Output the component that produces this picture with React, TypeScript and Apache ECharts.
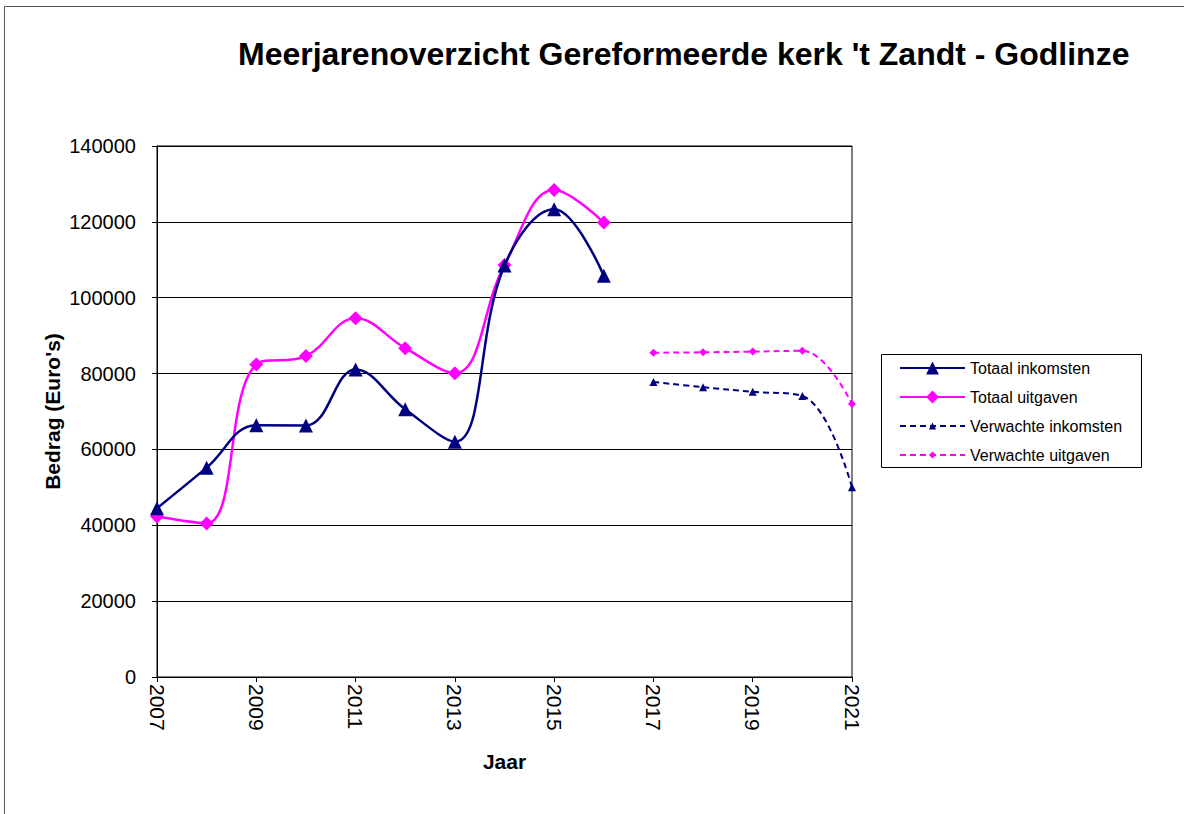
import React, { useEffect, useRef } from "react";
import * as echarts from "echarts";

const years = ["2007","2008","2009","2010","2011","2012","2013","2014","2015","2016","2017","2018","2019","2020","2021"];
const totaalInkomsten = [44500, 55200, 66400, 66300, 81100, 70600, 62000, 108500, 123300, 105800, null, null, null, null, null];
const totaalUitgaven = [42300, 40500, 82400, 84600, 94600, 86700, 80100, 108600, 128400, 119800, null, null, null, null, null];
const verwachteInkomsten = [null, null, null, null, null, null, null, null, null, null, 77800, 76400, 75200, 74100, 50000];
const verwachteUitgaven = [null, null, null, null, null, null, null, null, null, null, 85500, 85600, 85800, 86000, 72000];
const seriesNames = ["Totaal inkomsten", "Totaal uitgaven", "Verwachte inkomsten", "Verwachte uitgaven"];

const NAVY = "#000080";
const MAGENTA = "#FF00FF";
const FONT = "'Liberation Sans', Arial, sans-serif";

export default function App() {
  const ref = useRef<HTMLDivElement>(null);
  useEffect(() => {
    if (!ref.current) return;
    const chart = echarts.init(ref.current, undefined, { renderer: "svg" });
    const toData = (arr: (number | null)[]) => arr.map((v) => (v === null ? "-" : v));
    const legendTops = [360, 389, 418, 447];
    const legendHeights = [16, 16, 9, 9];
    const legends = seriesNames.map((n, i) => ({
      orient: "vertical",
      left: 899,
      top: legendTops[i],
      padding: 0,
      itemWidth: 65,
      itemHeight: legendHeights[i],
      itemGap: 8,
      selectedMode: false,
      textStyle: { fontFamily: FONT, fontSize: 16, lineHeight: 16, color: "#000" },
      data: [n],
    }));
    chart.setOption({
      animation: false,
      backgroundColor: "#fff",
      textStyle: { fontFamily: FONT },
      title: {
        text: "Meerjarenoverzicht Gereformeerde kerk 't Zandt - Godlinze",
        left: 238,
        top: 38,
        padding: 0,
        textStyle: { fontFamily: FONT, fontSize: 32, fontWeight: "bold", color: "#000" },
      },
      graphic: [
        {
          type: "rect",
          shape: { x: 4.5, y: 6.5, width: 1300, height: 900 },
          style: { fill: "none", stroke: "#555", lineWidth: 1 },
          silent: true,
        },
        {
          type: "rect",
          shape: { x: 881.5, y: 354.5, width: 260, height: 113 },
          style: { fill: "none", stroke: "#000", lineWidth: 1 },
          silent: true,
        },
      ],
      legend: legends,
      grid: {
        left: 157,
        top: 146,
        right: 332,
        bottom: 137,
        show: true,
        borderColor: "#000",
        borderWidth: 1,
        containLabel: false,
      },
      xAxis: {
        type: "category",
        data: years,
        boundaryGap: false,
        name: "Jaar",
        nameLocation: "middle",
        nameGap: 74,
        nameTextStyle: { fontFamily: FONT, fontSize: 21, fontWeight: "bold", color: "#000" },
        axisLine: { show: true, lineStyle: { color: "#000", width: 1 } },
        axisTick: { show: true, interval: 1, length: 5, lineStyle: { color: "#000" } },
        axisLabel: {
          interval: 1,
          rotate: -90,
          margin: 7,
          fontFamily: FONT,
          fontSize: 21,
          color: "#000",
        },
        splitLine: { show: false },
      },
      yAxis: {
        type: "value",
        min: 0,
        max: 140000,
        interval: 20000,
        name: "Bedrag (Euro's)",
        nameLocation: "middle",
        nameGap: 94,
        nameMoveOverlap: false,
        nameTextStyle: { fontFamily: FONT, fontSize: 21, fontWeight: "bold", color: "#000" },
        axisLine: { show: true, lineStyle: { color: "#000", width: 1 } },
        axisTick: { show: true, length: 5, lineStyle: { color: "#000" } },
        axisLabel: {
          margin: 21,
          fontFamily: FONT,
          fontSize: 20,
          color: "#000",
          formatter: (v: number) => String(v),
        },
        splitLine: { show: true, lineStyle: { color: "#000", width: 1 } },
      },
      series: [
        {
          name: seriesNames[0],
          type: "line",
          data: toData(totaalInkomsten),
          smooth: 0.4,
          symbol: "triangle",
          symbolSize: 14,
          color: NAVY,
          lineStyle: { color: NAVY, width: 2.5 },
          itemStyle: { color: NAVY },
          connectNulls: false,
          z: 3,
        },
        {
          name: seriesNames[1],
          type: "line",
          data: toData(totaalUitgaven),
          smooth: 0.4,
          symbol: "diamond",
          symbolSize: 14,
          color: MAGENTA,
          lineStyle: { color: MAGENTA, width: 2.5 },
          itemStyle: { color: MAGENTA },
          connectNulls: false,
          z: 2,
        },
        {
          name: seriesNames[2],
          type: "line",
          data: toData(verwachteInkomsten),
          smooth: 0.4,
          symbol: "triangle",
          symbolSize: 8,
          color: NAVY,
          lineStyle: { color: NAVY, width: 2, type: [6, 4] },
          itemStyle: { color: NAVY },
          connectNulls: false,
        },
        {
          name: seriesNames[3],
          type: "line",
          data: toData(verwachteUitgaven),
          smooth: 0.4,
          symbol: "diamond",
          symbolSize: 8,
          color: MAGENTA,
          lineStyle: { color: MAGENTA, width: 2, type: [6, 4] },
          itemStyle: { color: MAGENTA },
          connectNulls: false,
        },
      ],
    });
    return () => chart.dispose();
  }, []);
  return (
    <div
      ref={ref}
      style={{ position: "fixed", left: 0, top: 0, width: 1184, height: 814 }}
    />
  );
}
